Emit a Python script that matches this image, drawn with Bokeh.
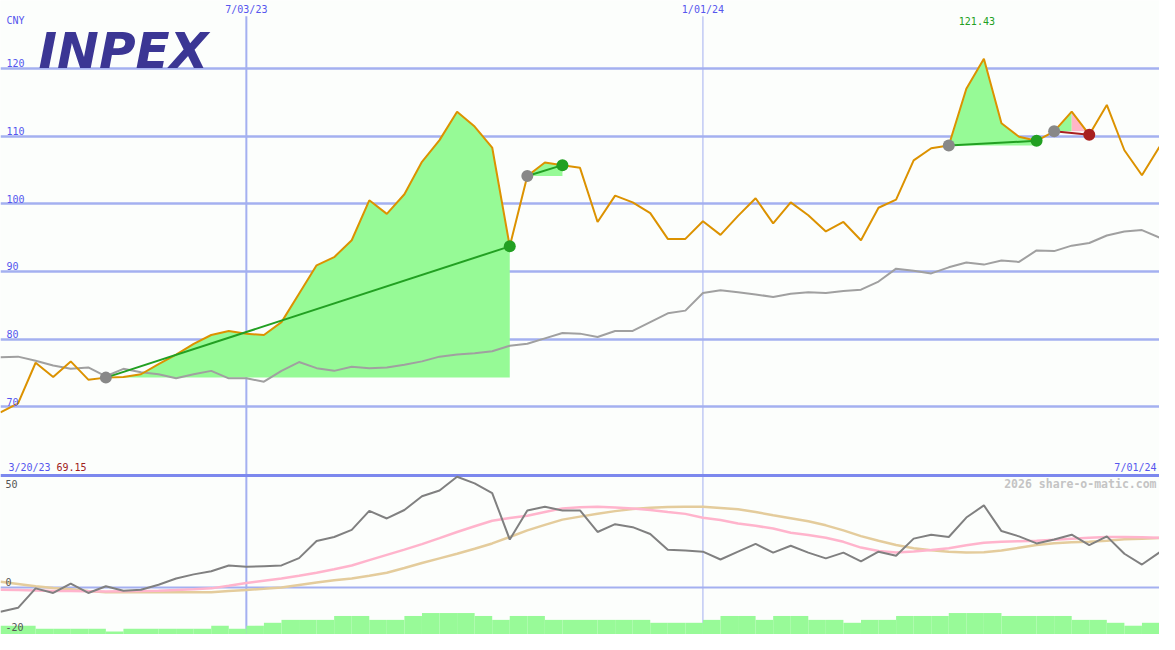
import numpy as np
import pandas as pd
from bokeh.plotting import figure
from bokeh.models import Range1d
from bokeh.core.properties import value
from bokeh.embed import file_html
from bokeh.resources import INLINE

# ---------------- data (weekly, Mondays) ----------------
dates = pd.date_range("2023-03-27", periods=67, freq="7D")
price = [69.15, 70.5, 76.5, 74.4, 76.7, 74.0, 74.3, 74.4, 74.8, 76.3,
         77.7, 79.3, 80.6, 81.2, 80.8, 80.6, 82.5, 86.7, 90.9, 92.1,
         94.6, 100.5, 98.5, 101.4, 106.2, 109.4, 113.6, 111.4, 108.3, 93.7,
         104.1, 106.1, 105.7, 105.3, 97.3, 101.2, 100.2, 98.6, 94.8, 94.8,
         97.4, 95.4, 98.2, 100.8, 97.1, 100.2, 98.3, 95.9, 97.3, 94.6,
         99.4, 100.6, 106.4, 108.2, 108.6, 117.0, 121.43, 111.9, 109.9, 109.3,
         110.7, 113.6, 110.2, 114.6, 107.9, 104.2, 108.4]
bench = [77.3, 77.4, 76.8, 76.1, 75.6, 75.8, 74.5, 75.6, 75.1, 74.8,
         74.2, 74.8, 75.3, 74.2, 74.2, 73.7, 75.3, 76.6, 75.7, 75.3,
         75.9, 75.7, 75.8, 76.2, 76.7, 77.4, 77.7, 77.9, 78.2, 79.0,
         79.3, 80.1, 80.9, 80.8, 80.3, 81.2, 81.2, 82.5, 83.8, 84.2,
         86.8, 87.2, 86.9, 86.6, 86.2, 86.7, 86.9, 86.8, 87.1, 87.3,
         88.5, 90.4, 90.1, 89.7, 90.6, 91.3, 91.0, 91.6, 91.4, 93.1,
         93.0, 93.8, 94.2, 95.3, 95.9, 96.1, 95.0]
osc = [-10.5, -8.8, -0.3, -2.3, 1.8, -2.3, 0.6, -1.3, -0.9, 1.3,
       4.0, 5.8, 7.2, 9.7, 9.1, 9.4, 9.7, 12.9, 20.4, 22.1,
       25.2, 33.5, 30.2, 33.9, 39.9, 42.4, 48.4, 45.5, 41.3, 21.0,
       33.7, 35.3, 33.7, 33.7, 24.3, 27.7, 26.4, 23.4, 16.6, 16.2,
       15.7, 12.3, 15.7, 19.1, 15.3, 18.3, 15.3, 12.8, 15.3, 11.5,
       15.7, 13.9, 21.4, 23.1, 22.1, 30.6, 35.9, 24.7, 22.4, 19.3,
       21.0, 23.1, 18.6, 22.4, 14.8, 10.1, 15.4]
ma_fast = [-0.9, -1.0, -1.2, -1.4, -1.5, -1.6, -1.7, -1.6, -1.5, -1.3,
           -1.0, -0.7, -0.3, 0.8, 2.0, 3.0, 4.0, 5.2, 6.5, 8.0,
           9.7, 12.0, 14.3, 16.6, 19.0, 21.6, 24.3, 26.8, 29.2, 30.4,
           31.4, 33.0, 34.6, 35.1, 35.3, 35.0, 34.5, 33.9, 33.0, 32.2,
           30.5, 29.5, 28.0, 27.0, 25.8, 24.0, 23.0, 21.8, 20.0, 17.5,
           16.0, 15.3, 15.8, 16.4, 17.2, 18.5, 19.6, 20.0, 20.3, 20.5,
           20.9, 21.4, 21.8, 22.1, 22.1, 22.0, 21.8]
ma_slow = [2.6, 1.6, 0.6, -0.1, -0.7, -1.4, -2.0, -2.0, -2.0, -2.0,
           -2.0, -2.0, -2.0, -1.5, -1.0, -0.5, 0.1, 1.2, 2.3, 3.2,
           4.0, 5.2, 6.5, 8.6, 10.8, 12.8, 14.8, 17.0, 19.3, 22.1,
           25.0, 27.4, 29.7, 31.0, 32.3, 33.4, 34.3, 34.9, 35.2, 35.3,
           35.3, 34.8, 34.2, 33.0, 31.6, 30.3, 29.0, 27.2, 25.0, 22.5,
           20.5, 18.6, 17.2, 16.3, 15.7, 15.3, 15.5, 16.2, 17.4, 18.6,
           19.4, 19.8, 20.0, 20.5, 21.1, 21.4, 21.7]
volume = [9, 9, 6, 6, 6, 6, 3, 6, 6, 6,
          6, 6, 9, 6, 9, 12, 15, 15, 15, 19,
          19, 15, 15, 19, 22, 22, 22, 19, 15, 19,
          19, 15, 15, 15, 15, 15, 15, 12, 12, 12,
          15, 19, 19, 15, 19, 19, 15, 15, 12, 15,
          15, 19, 19, 19, 22, 22, 22, 19, 19, 19,
          19, 15, 15, 12, 9, 12, 12]
trade_entries = [6, 30, 54, 60]
trade_exits = [29, 32, 59, 62]
price_grid = [70, 80, 90, 100, 110, 120]
price_grid_labels = ["70", "80", "90", "100", "110", "120"]
ind_grid_labels = ["50", "0", "-20"]
ind_grid_vals = [50, 0, -20]
marked_dates = ["2023-07-03", "2024-01-01"]
marked_labels = ["7/03/23", "1/01/24"]
start_label = "3/20/23"
end_label = "7/01/24"
currency = "CNY"

# ---------------- figure ----------------
W, H = 1159, 634
x = np.arange(len(price))
price_arr = np.array(price)
P_TOP, P_BOT = 130.03, 36.34
I_TOP, I_BOT = 256.2, -20.43
IND_SEP = 49.0

p = figure(width=W, height=H, x_range=Range1d(0, 66), y_range=Range1d(P_BOT, P_TOP),
           toolbar_location=None, output_backend="svg", min_border=0,
           x_axis_location=None, y_axis_location=None,
           background_fill_color="#fcfefc", border_fill_color="#fcfefc",
           outline_line_color=None)
p.grid.visible = False
p.extra_y_ranges = {"ind": Range1d(I_BOT, I_TOP), "vol": Range1d(0, 650)}

mono = value("DejaVu Sans Mono")
GRID = "#a4b0f0"
BLUE_TXT = "#5656ee"
FS = "10px"

# grid lines
p.hspan(y=price_grid, line_color=GRID, line_width=2.5)
p.hspan(y=[0], y_range_name="ind", line_color=GRID, line_width=2)
mark_idx = [int(np.where(dates == pd.Timestamp(d))[0][0]) for d in marked_dates]
p.segment(x0=[mark_idx[0]], x1=[mark_idx[0]], y0=[127.7], y1=[P_BOT],
          line_color=GRID, line_width=2)
p.segment(x0=[mark_idx[1]], x1=[mark_idx[1]], y0=[127.7], y1=[P_BOT],
          line_color=GRID, line_width=1)
p.hspan(y=[IND_SEP], y_range_name="ind", line_color="#7c88ee", line_width=3)

# volume bars
p.quad(left=x, right=x + 1, bottom=0, top=volume, y_range_name="vol",
       fill_color="#98fa98", line_color=None)


# trade fills
def fill_poly(a, b, level):
    xs, ys = [], []
    for i in range(a, b + 1):
        if i > a:
            y0, y1 = price_arr[i - 1], price_arr[i]
            if (y0 - level) * (y1 - level) < 0:
                t = (level - y0) / (y1 - y0)
                xs.append(i - 1 + t)
                ys.append(level)
        xs.append(i)
        ys.append(max(price_arr[i], level))
    xs += [b, a]
    ys += [level, level]
    return xs, ys


for a, b in zip(trade_entries, trade_exits):
    lvl = price_arr[a]
    if price_arr[b] >= lvl:
        xs, ys = fill_poly(a, b, lvl)
        p.patch(xs, ys, fill_color="#96fa96", line_color=None)
    else:
        pk = a + int(np.argmax(price_arr[a:b + 1]))
        xs, ys = fill_poly(a, pk, lvl)
        p.patch(xs, ys, fill_color="#96fa96", line_color=None)
        xs, ys = fill_poly(pk, b, lvl)
        p.patch(xs, ys, fill_color="#ffb6c8", line_color=None)

# lines
p.line(x, bench, line_color="#a0a0a0", line_width=2)
p.line(x, price, line_color="#dc9200", line_width=2)
p.line(x, ma_slow, y_range_name="ind", line_color="#e4cc9c", line_width=2.5)
p.line(x, ma_fast, y_range_name="ind", line_color="#ffb4cc", line_width=2.5)
p.line(x, osc, y_range_name="ind", line_color="#808080", line_width=2)

# trades
win = [price_arr[b] >= price_arr[a] for a, b in zip(trade_entries, trade_exits)]
tcol = ["#22a022" if w else "#a82020" for w in win]
p.segment(x0=trade_entries, y0=price_arr[trade_entries], x1=trade_exits,
          y1=price_arr[trade_exits], line_color=tcol, line_width=2)
p.scatter(trade_entries, price_arr[trade_entries], size=12, marker="circle",
          fill_color="#888888", line_color=None)
p.scatter(trade_exits, price_arr[trade_exits], size=12, marker="circle",
          fill_color=tcol, line_color=None)

# texts (vertical centre anchoring)
def txt(xv, yv, t, dx, dy, color=BLUE_TXT, align="left", rng="default", size=FS, style="normal"):
    p.text(x=xv, y=yv, text=t, x_offset=dx, y_offset=dy, y_range_name=rng,
           text_font=mono, text_font_size=size, text_font_style=style, text_color=color,
           text_align=align, text_baseline="middle")


txt([0] * len(price_grid), price_grid, price_grid_labels, 6, -5)
txt([0], [P_TOP], [currency], 6, 20)
txt(mark_idx, [P_TOP] * 2, marked_labels, 0, 9, align="center")
imax = int(np.argmax(price_arr))
txt([imax], [P_TOP], [f"{price_arr[imax]:.2f}"], -7, 20, color="#22a022", align="center")
txt([0], [IND_SEP], [start_label], 8, -8, rng="ind")
txt([0], [IND_SEP], [f"{price[0]:.2f}"], 56, -8, color="#a02020", rng="ind")
txt([66], [IND_SEP], [end_label], -3, -8, align="right", rng="ind")
txt([66], [IND_SEP], ["2026 share-o-matic.com"], -3, 9, color="#c4c4c4", align="right",
    rng="ind", size="11.5px", style="bold")
txt([0] * 3, ind_grid_vals, ind_grid_labels, 5, [11, -6, -7], color="#555555", rng="ind")

# logo
p.text(x=[0], y=[120], text=["INPEX"], x_offset=38, y_offset=-17,
       text_font=value("DejaVu Sans"), text_font_size="50px", text_font_style="bold italic",
       text_color="#3b3694", text_baseline="middle")

open("out.html", "w").write(file_html(p, INLINE))
